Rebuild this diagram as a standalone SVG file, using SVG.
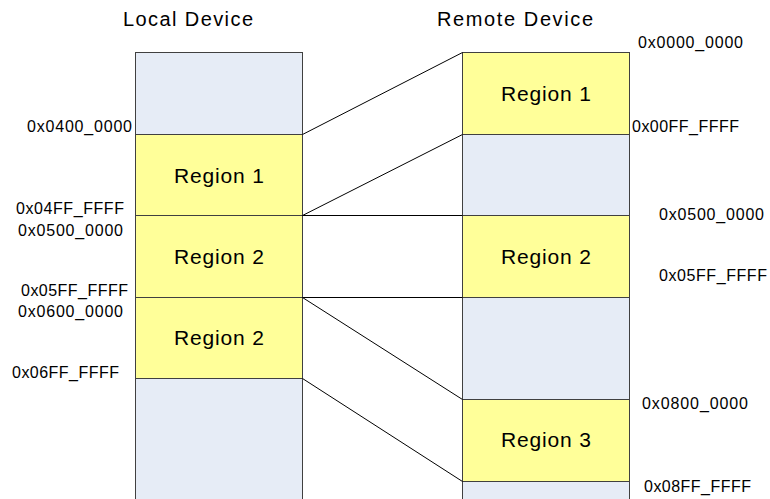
<svg xmlns="http://www.w3.org/2000/svg" width="770" height="499" viewBox="0 0 770 499">
  <style>
    .free { fill: #E6ECF6; stroke: #404040; stroke-width: 1; }
    .region { fill: #FFFF99; stroke: #404040; stroke-width: 1; }
    .map { stroke: #000; stroke-width: 1; fill: none; }
    .title { font-family: "Liberation Sans", Arial, sans-serif; font-size: 20px; fill: #000; }
    .rlabel { font-family: "Liberation Sans", Arial, sans-serif; font-size: 21px; fill: #000; }
    .addr { font-family: "Liberation Sans", Arial, sans-serif; font-size: 16px; fill: #000; }
  </style>
  <rect width="770" height="499" fill="#fff"/>

  <!-- column headings -->
  <text class="title" x="123" y="26" textLength="130" lengthAdjust="spacing">Local Device</text>
  <text class="title" x="437" y="26" textLength="156" lengthAdjust="spacing">Remote Device</text>

  <!-- local address map -->
  <g id="local-device">
    <rect class="free" x="135.5" y="52.5" width="167" height="82"/>
    <rect class="free" x="135.5" y="378.5" width="167" height="130"/>
  </g>
  <g id="local-region1">
    <rect class="region" x="135.5" y="134.5" width="167" height="81"/>
    <text class="rlabel" x="174" y="183" textLength="90" lengthAdjust="spacing">Region 1</text>
  </g>
  <g id="local-region2a">
    <rect class="region" x="135.5" y="215.5" width="167" height="82"/>
    <text class="rlabel" x="174" y="264" textLength="90" lengthAdjust="spacing">Region 2</text>
  </g>
  <g id="local-region2b">
    <rect class="region" x="135.5" y="297.5" width="167" height="81"/>
    <text class="rlabel" x="174" y="345" textLength="90" lengthAdjust="spacing">Region 2</text>
  </g>

  <!-- remote address map -->
  <g id="remote-device">
    <rect class="free" x="462.5" y="134.5" width="167" height="81"/>
    <rect class="free" x="462.5" y="297.5" width="167" height="102"/>
    <rect class="free" x="462.5" y="481.5" width="167" height="30"/>
  </g>
  <g id="remote-region1">
    <rect class="region" x="462.5" y="52.5" width="167" height="82"/>
    <text class="rlabel" x="501" y="101" textLength="90" lengthAdjust="spacing">Region 1</text>
  </g>
  <g id="remote-region2">
    <rect class="region" x="462.5" y="215.5" width="167" height="82"/>
    <text class="rlabel" x="501" y="264" textLength="90" lengthAdjust="spacing">Region 2</text>
  </g>
  <g id="remote-region3">
    <rect class="region" x="462.5" y="399.5" width="167" height="82"/>
    <text class="rlabel" x="501" y="447" textLength="90" lengthAdjust="spacing">Region 3</text>
  </g>

  <!-- address labels -->
  <g id="local-addresses">
    <text class="addr" x="27" y="132" textLength="105" lengthAdjust="spacing">0x0400_0000</text>
    <text class="addr" x="16" y="214" textLength="108" lengthAdjust="spacing">0x04FF_FFFF</text>
    <text class="addr" x="18" y="236" textLength="105" lengthAdjust="spacing">0x0500_0000</text>
    <text class="addr" x="21" y="296" textLength="107" lengthAdjust="spacing">0x05FF_FFFF</text>
    <text class="addr" x="18" y="317" textLength="105" lengthAdjust="spacing">0x0600_0000</text>
    <text class="addr" x="12" y="378" textLength="107" lengthAdjust="spacing">0x06FF_FFFF</text>
  </g>
  <g id="remote-addresses">
    <text class="addr" x="638" y="48" textLength="105" lengthAdjust="spacing">0x0000_0000</text>
    <text class="addr" x="632" y="132" textLength="107" lengthAdjust="spacing">0x00FF_FFFF</text>
    <text class="addr" x="659" y="220" textLength="105" lengthAdjust="spacing">0x0500_0000</text>
    <text class="addr" x="659" y="281" textLength="108" lengthAdjust="spacing">0x05FF_FFFF</text>
    <text class="addr" x="642" y="409" textLength="106" lengthAdjust="spacing">0x0800_0000</text>
    <text class="addr" x="644" y="492" textLength="107" lengthAdjust="spacing">0x08FF_FFFF</text>
  </g>

  <!-- mapping connectors -->
  <g id="connectors" class="map">
    <line x1="302.5" y1="134.5" x2="462.5" y2="52.5"/>
    <line x1="302.5" y1="215.5" x2="462.5" y2="134.5"/>
    <line x1="302.5" y1="215.5" x2="462.5" y2="215.5"/>
    <line x1="302.5" y1="297.5" x2="462.5" y2="297.5"/>
    <line x1="302.5" y1="297.5" x2="462.5" y2="399.5"/>
    <line x1="302.5" y1="378.5" x2="462.5" y2="481.5"/>
  </g>
</svg>
